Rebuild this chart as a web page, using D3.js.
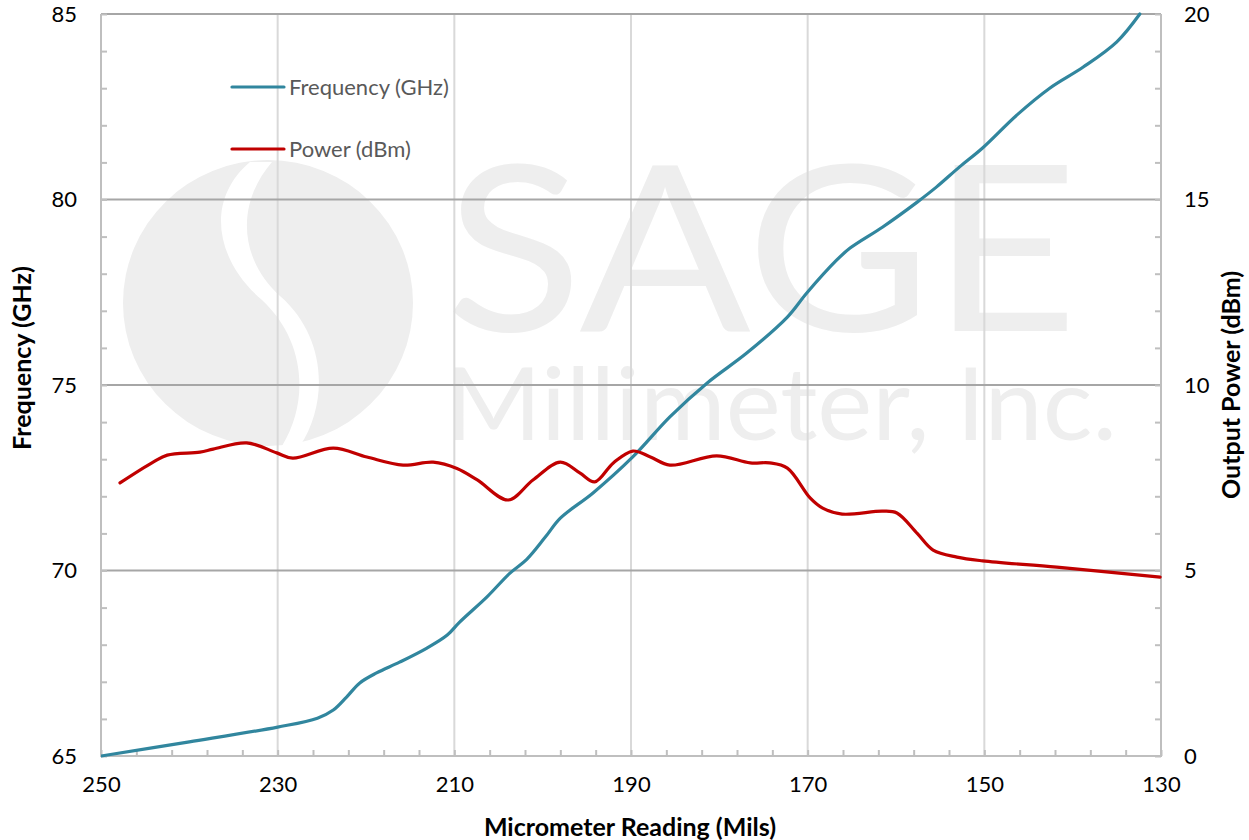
<!DOCTYPE html>
<html>
<head>
    <title>Frequency and Power vs Micrometer Reading</title>
    <script src="https://d3js.org/d3.v7.min.js"></script>
    <style>
        body { margin: 0; background: #fff; }
        text { font-family: Lato, "Open Sans", sans-serif; }
    </style>
</head>
<body>
    <svg width="1249" height="840"></svg>
    <script>
        // micrometer reading (mils) and frequency (GHz)
        var freqMils = [250, 240, 230, 225.5, 223.7, 222.2, 220.7, 218.8, 216.2, 213.1, 210.8, 209.4,
            206.3, 203.7, 201.8, 199.7, 198.0, 194.3, 189.8, 185.6, 181.4, 176.9, 172.3, 170.1,
            166.7, 165.2, 161.5, 157.6, 155.4, 152.8, 150.2, 146.3, 142.6, 138.8, 135.0, 132.4];
        var freqGHz = [65.0, 65.38, 65.78, 66.02, 66.24, 66.59, 66.97, 67.24, 67.53, 67.91, 68.26, 68.61,
            69.29, 69.93, 70.3, 70.9, 71.41, 72.09, 73.06, 74.14, 75.05, 75.86, 76.83, 77.48,
            78.37, 78.69, 79.26, 79.93, 80.34, 80.88, 81.39, 82.28, 83.0, 83.57, 84.25, 85.0];

        // micrometer reading (mils) and output power (dBm)
        var powerMils = [247.85, 244.1, 242.5, 238.8, 237.3, 233.5, 230.1, 228.3, 223.7, 219.9, 215.8,
            212.4, 209.7, 207.4, 203.9, 201.1, 198.0, 195.8, 194.1, 192.0, 189.8, 187.8, 185.6,
            180.3, 176.5, 174.3, 172.3, 169.7, 168.3, 166.1, 161.5, 159.9, 157.6, 155.8, 153.1,
            150.2, 141.8, 130.1];
        var powerDbm = [7.36, 7.92, 8.11, 8.19, 8.27, 8.44, 8.17, 8.03, 8.3, 8.06, 7.84,
            7.92, 7.75, 7.44, 6.9, 7.44, 7.92, 7.63, 7.39, 7.9, 8.22, 8.06, 7.84,
            8.09, 7.9, 7.9, 7.76, 6.95, 6.68, 6.52, 6.6, 6.55, 6.0, 5.55, 5.36,
            5.26, 5.09, 4.82];

        var xTicks = [250, 230, 210, 190, 170, 150, 130];
        var freqTicks = [65, 70, 75, 80, 85];
        var powerTicks = [0, 5, 10, 15, 20];
        var seriesNames = ["Frequency (GHz)", "Power (dBm)"];
        var seriesColors = ["#31869e", "#c00000"];

        var svg = d3.select("svg");
        // plot box (note: "top" is taken by window.top)
        var pLeft = 101, pRight = 1161, pTop = 14, pBottom = 756;

        var x = d3.scaleLinear().domain([250, 130]).range([pLeft, pRight]);
        var yF = d3.scaleLinear().domain([65, 85]).range([pBottom, pTop]);
        var yP = d3.scaleLinear().domain([0, 20]).range([pBottom, pTop]);

        // watermark
        var wm = svg.append("g").attr("fill", "#eeeeee");
        wm.append("ellipse").attr("cx", 268).attr("cy", 303).attr("rx", 145).attr("ry", 143);
        wm.append("path")
            .attr("d", "M250,162 C205,200 215,260 262,300 C305,340 310,400 282,446 L300,446 C330,400 325,335 280,296 C240,260 235,205 272,162 Z")
            .attr("fill", "#fff");
        wm.append("text").attr("x", 445).attr("y", 331)
            .attr("font-size", 232).attr("textLength", 633).attr("lengthAdjust", "spacingAndGlyphs")
            .text("SAGE");
        wm.append("text").attr("x", 445).attr("y", 440)
            .attr("font-size", 100).attr("textLength", 672).attr("lengthAdjust", "spacingAndGlyphs")
            .text("Millimeter, Inc.");

        // grid
        svg.append("g").selectAll("line").data(xTicks.slice(1, -1)).enter().append("line")
            .attr("x1", x).attr("x2", x).attr("y1", pTop).attr("y2", pBottom)
            .attr("stroke", "#d9d9d9").attr("stroke-width", 2);
        svg.append("g").selectAll("line").data(freqTicks.slice(1)).enter().append("line")
            .attr("x1", pLeft).attr("x2", pRight).attr("y1", yF).attr("y2", yF)
            .attr("stroke", "#a6a6a6").attr("stroke-width", 2);

        // minor ticks
        var axisColor = "#bfbfbf";
        function styleAxis(g) {
            g.select(".domain").remove();
            g.selectAll("line").attr("stroke", axisColor).attr("stroke-width", 2);
        }
        svg.append("g").attr("transform", "translate(" + pLeft + ",0)")
            .call(d3.axisRight(yF).tickValues(d3.range(65, 86, 1)).tickSize(6).tickFormat(""))
            .call(styleAxis);
        svg.append("g").attr("transform", "translate(" + pRight + ",0)")
            .call(d3.axisLeft(yP).tickValues(d3.range(0, 21, 1)).tickSize(6).tickFormat(""))
            .call(styleAxis);
        svg.append("g").attr("transform", "translate(0," + pBottom + ")")
            .call(d3.axisTop(x).tickValues(d3.range(250, 129, -4)).tickSize(6).tickFormat(""))
            .call(styleAxis);

        // axis lines
        var frame = svg.append("g").attr("stroke", axisColor).attr("stroke-width", 2);
        frame.append("line").attr("x1", pLeft).attr("x2", pLeft).attr("y1", pTop).attr("y2", pBottom);
        frame.append("line").attr("x1", pRight).attr("x2", pRight).attr("y1", pTop).attr("y2", pBottom);
        frame.append("line").attr("x1", pLeft - 1).attr("x2", pRight + 1).attr("y1", pBottom).attr("y2", pBottom);

        // tick labels
        function labelAxis(g) {
            g.select(".domain").remove();
            g.selectAll("line").remove();
            g.selectAll("text").attr("font-size", 22).attr("fill", "#000")
                .style("font-family", "Lato, sans-serif");
        }
        svg.append("g").attr("transform", "translate(" + pLeft + ",0)")
            .call(d3.axisLeft(yF).tickValues(freqTicks).tickSize(0).tickPadding(24))
            .call(labelAxis);
        svg.append("g").attr("transform", "translate(" + pRight + ",0)")
            .call(d3.axisRight(yP).tickValues(powerTicks).tickSize(0).tickPadding(23))
            .call(labelAxis);
        svg.append("g").attr("transform", "translate(0," + pBottom + ")")
            .call(d3.axisBottom(x).tickValues(xTicks).tickSize(0).tickPadding(20))
            .call(labelAxis);

        // axis titles
        svg.append("text").attr("transform", "translate(31,358) rotate(-90)")
            .attr("text-anchor", "middle").attr("font-size", 25).attr("font-weight", "bold")
            .text("Frequency (GHz)");
        svg.append("text").attr("transform", "translate(1240,385) rotate(-90)")
            .attr("text-anchor", "middle").attr("font-size", 25).attr("font-weight", "bold")
            .text("Output Power (dBm)");
        svg.append("text").attr("x", 630).attr("y", 836)
            .attr("text-anchor", "middle").attr("font-size", 25).attr("font-weight", "bold")
            .text("Micrometer Reading (Mils)");

        // series
        var freqData = freqMils.map(function(m, i) { return { x: m, y: freqGHz[i] }; });
        var powerData = powerMils.map(function(m, i) { return { x: m, y: powerDbm[i] }; });

        svg.append("clipPath").attr("id", "plot").append("rect")
            .attr("x", pLeft).attr("y", pTop - 2).attr("width", pRight - pLeft + 2).attr("height", pBottom - pTop + 4);

        var freqLine = d3.line().x(function(d) { return x(d.x); }).y(function(d) { return yF(d.y); })
            .curve(d3.curveCatmullRom.alpha(0.5));
        var powerLine = d3.line().x(function(d) { return x(d.x); }).y(function(d) { return yP(d.y); })
            .curve(d3.curveCatmullRom.alpha(0.5));

        svg.append("path").datum(freqData).attr("d", freqLine).attr("clip-path", "url(#plot)")
            .attr("fill", "none").attr("stroke", seriesColors[0]).attr("stroke-width", 3.2)
            .attr("stroke-linecap", "round");
        svg.append("path").datum(powerData).attr("d", powerLine)
            .attr("fill", "none").attr("stroke", seriesColors[1]).attr("stroke-width", 3.2)
            .attr("stroke-linecap", "round");

        // legend
        var legend = svg.append("g").selectAll("g").data(seriesNames).enter().append("g")
            .attr("transform", function(d, i) { return "translate(232," + (87 + i * 62) + ")"; });
        legend.append("line").attr("x1", 0).attr("x2", 52)
            .attr("stroke", function(d, i) { return seriesColors[i]; })
            .attr("stroke-width", 3.2).attr("stroke-linecap", "round");
        legend.append("text").attr("x", 57).attr("dy", "0.35em")
            .attr("font-size", 22).attr("fill", "#595959").text(function(d) { return d; });
    </script>
</body>
</html>
